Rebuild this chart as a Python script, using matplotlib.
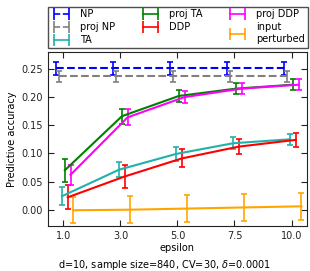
import matplotlib
matplotlib.use('Agg')
import matplotlib.pyplot as plt
from matplotlib.lines import Line2D
import numpy as np

eps_labels = ['1.0', '3.0', '5.0', '7.5', '10.0']

np_mean = [0.251, 0.251, 0.251, 0.251, 0.251]
np_err = [0.012, 0.012, 0.012, 0.012, 0.012]
projnp_mean = [0.237, 0.237, 0.237, 0.237, 0.237]
projnp_err = [0.010, 0.010, 0.010, 0.010, 0.010]
ta_mean = [0.024, 0.071, 0.099, 0.118, 0.125]
ta_err = [0.016, 0.013, 0.012, 0.011, 0.010]
projta_mean = [0.070, 0.166, 0.202, 0.215, 0.222]
projta_err = [0.020, 0.013, 0.011, 0.010, 0.010]
ddp_mean = [0.022, 0.059, 0.091, 0.112, 0.124]
ddp_err = [0.021, 0.020, 0.016, 0.013, 0.013]
projddp_mean = [0.062, 0.164, 0.200, 0.215, 0.222]
projddp_err = [0.018, 0.014, 0.011, 0.010, 0.010]
inp_mean = [-0.001, 0.000, 0.002, 0.004, 0.006]
inp_err = [0.023, 0.024, 0.024, 0.024, 0.024]

series = [
    ('NP', np_mean, np_err, 'blue', '--'),
    ('proj NP', projnp_mean, projnp_err, 'gray', '--'),
    ('TA', ta_mean, ta_err, 'lightseagreen', '-'),
    ('proj TA', projta_mean, projta_err, 'green', '-'),
    ('DDP', ddp_mean, ddp_err, 'red', '-'),
    ('proj DDP', projddp_mean, projddp_err, 'magenta', '-'),
    ('input\nperturbed', inp_mean, inp_err, 'orange', '-'),
]

fig = plt.figure(figsize=(3.10, 2.71), dpi=100)
ax = fig.add_axes([0.155, 0.166, 0.835, 0.642])

x = np.arange(len(eps_labels))
handles = []
for i, (lab, m, e, c, ls) in enumerate(series):
    off = (i - 2.5) * 0.05
    ax.errorbar(x + off, m, yerr=e, color=c, ls=ls, lw=1.5, capsize=2.5,
                elinewidth=1.2, capthick=1.2)
    # old-style errorbar legend key: line with caps at both ends
    handles.append(Line2D([], [], color=c, ls=ls, lw=1.2, marker='|',
                          markersize=9, markeredgewidth=1.2, label=lab))

ax.set_xlim(-0.27, 4.27)
ax.set_ylim(-0.029, 0.28)
ax.set_xticks(x)
ax.set_xticklabels(eps_labels)
ax.set_yticks([0.0, 0.05, 0.10, 0.15, 0.20, 0.25])
ax.set_yticklabels(['0.00', '0.05', '0.10', '0.15', '0.20', '0.25'])
ax.tick_params(direction='in', top=True, right=True, labelsize=7, length=4,
               colors='#222222')
ax.set_xlabel('epsilon', fontsize=7, labelpad=1.5)
ax.set_ylabel('Predictive accuracy', fontsize=7, labelpad=3)
for s in ax.spines.values():
    s.set_color('#222222')

leg = fig.legend(handles=handles, loc='lower left',
                 bbox_to_anchor=(0.155, 0.822, 0.837, 0.171),
                 mode='expand', ncol=3, fontsize=7, fancybox=False,
                 numpoints=2, handlelength=2.2, borderaxespad=0,
                 labelspacing=0.3, handletextpad=0.8, borderpad=0.3)
leg.get_frame().set_edgecolor('#222222')

fig.text(0.53, 0.012, 'd=10, sample size=840, CV=30, $\\delta$=0.0001', ha='center', fontsize=7)

fig.savefig('out.png', dpi=100)
